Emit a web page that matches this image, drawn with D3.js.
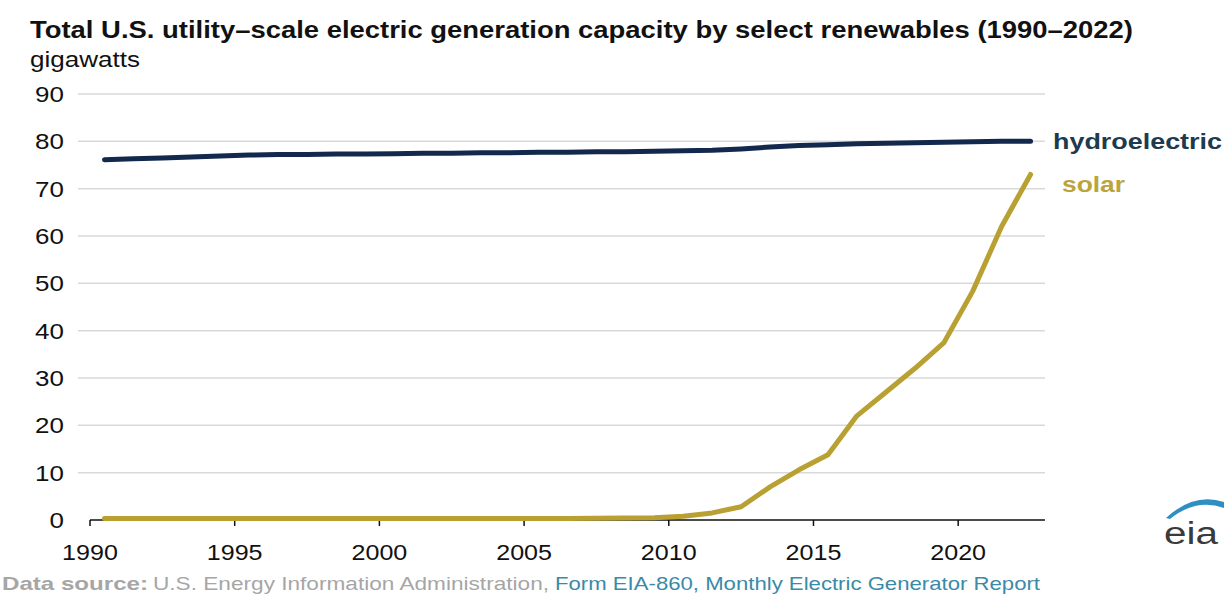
<!DOCTYPE html>
<html>
<head>
<meta charset="utf-8">
<script src="https://cdn.jsdelivr.net/npm/d3@7"></script>
<style>
  body { margin: 0; background: #fff; }
  text { font-family: "Liberation Sans", Arial, sans-serif; }
</style>
</head>
<body>
<div id="chart"></div>
<script>
// years 1990..2022
var years = d3.range(1990, 2023);
var hydro = [76.1, 76.3, 76.5, 76.7, 76.9, 77.1, 77.2, 77.2, 77.3, 77.3,
             77.4, 77.5, 77.5, 77.6, 77.6, 77.7, 77.7, 77.8, 77.8, 77.9,
             78.0, 78.1, 78.4, 78.8, 79.1, 79.3, 79.5, 79.6, 79.7, 79.8,
             79.9, 80.0, 80.0];
var solar = [0.3, 0.3, 0.3, 0.3, 0.3, 0.3, 0.3, 0.3, 0.3, 0.3,
             0.3, 0.3, 0.3, 0.3, 0.3, 0.3, 0.3, 0.35, 0.4, 0.5,
             0.8, 1.5, 2.8, 7.0, 10.6, 13.8, 22.0, 27.0, 32.0, 37.4,
             48.3, 62.0, 73.0];
var yTicks = [0, 10, 20, 30, 40, 50, 60, 70, 80, 90];
var xTickYears = [1990, 1995, 2000, 2005, 2010, 2015, 2020];

var W = 1224, H = 595;
var stretch = 1.18;   // source image text is a bit wide

var svg = d3.select("#chart").append("svg")
  .attr("width", W).attr("height", H);

var x = d3.scaleBand().domain(years).range([90, 1045]);
var y = d3.scaleLinear().domain([0, 90]).range([520, 94]);

function widen(sel, f) {
  sel.each(function() {
    var w = this.getComputedTextLength();
    d3.select(this).attr("textLength", w * (f || stretch))
      .attr("lengthAdjust", "spacingAndGlyphs");
  });
}

// title
svg.append("text").attr("x", 30).attr("y", 38)
  .attr("font-size", 23).attr("font-weight", "bold").attr("fill", "#111")
  .attr("textLength", 1103).attr("lengthAdjust", "spacingAndGlyphs")
  .text("Total U.S. utility\u2013scale electric generation capacity by select renewables (1990\u20132022)");
svg.append("text").attr("x", 30).attr("y", 67)
  .attr("font-size", 22).attr("fill", "#111")
  .attr("textLength", 110).attr("lengthAdjust", "spacingAndGlyphs")
  .text("gigawatts");

// gridlines
svg.append("g").selectAll("line")
  .data(yTicks.filter(function(d){ return d > 0; }))
  .enter().append("line")
  .attr("x1", 78).attr("x2", 1045)
  .attr("y1", function(d){ return y(d); })
  .attr("y2", function(d){ return y(d); })
  .attr("stroke", "#d9d9d9").attr("stroke-width", 1.5);

// y labels
svg.append("g").selectAll("text")
  .data(yTicks).enter().append("text")
  .attr("x", 64).attr("y", function(d){ return y(d) + 8; })
  .attr("text-anchor", "end").attr("font-size", 22).attr("fill", "#111")
  .text(function(d){ return d; })
  .call(widen);

// x axis
var xaxis = svg.append("g");
xaxis.append("line").attr("x1", 90).attr("x2", 1045)
  .attr("y1", 520).attr("y2", 520).attr("stroke", "#111").attr("stroke-width", 1.5);
xaxis.selectAll(".tick").data(xTickYears).enter().append("line")
  .attr("x1", function(d){ return x(d); }).attr("x2", function(d){ return x(d); })
  .attr("y1", 520).attr("y2", 526).attr("stroke", "#111").attr("stroke-width", 1.5);
xaxis.selectAll("text").data(xTickYears).enter().append("text")
  .attr("x", function(d){ return x(d); }).attr("y", 560)
  .attr("text-anchor", "middle").attr("font-size", 22).attr("fill", "#111")
  .text(function(d){ return d; })
  .call(widen, 1.14);

var line = d3.line()
  .x(function(d, i){ return x(years[i]) + x.bandwidth() / 2; })
  .y(function(d){ return y(d); });

svg.append("path").datum(solar).attr("d", line)
  .attr("fill", "none").attr("stroke", "#b9a032").attr("stroke-width", 5)
  .attr("stroke-linejoin", "round").attr("stroke-linecap", "round");
svg.append("path").datum(hydro).attr("d", line)
  .attr("fill", "none").attr("stroke", "#12284d").attr("stroke-width", 5)
  .attr("stroke-linejoin", "round").attr("stroke-linecap", "round");

// series labels
svg.append("text").attr("x", 1053).attr("y", 149)
  .attr("font-size", 22).attr("font-weight", "bold").attr("fill", "#1d3a4e")
  .attr("textLength", 169).attr("lengthAdjust", "spacingAndGlyphs")
  .text("hydroelectric");
svg.append("text").attr("x", 1062).attr("y", 192)
  .attr("font-size", 22).attr("font-weight", "bold").attr("fill", "#bba43c")
  .attr("textLength", 63).attr("lengthAdjust", "spacingAndGlyphs")
  .text("solar");

// footer
svg.append("text").attr("x", 2).attr("y", 590).attr("font-size", 19)
  .attr("font-weight", "bold").attr("fill", "#a6a6a6")
  .attr("textLength", 146).attr("lengthAdjust", "spacingAndGlyphs")
  .text("Data source:");
svg.append("text").attr("x", 153).attr("y", 590).attr("font-size", 19)
  .attr("fill", "#a6a6a6")
  .attr("textLength", 396).attr("lengthAdjust", "spacingAndGlyphs")
  .text("U.S. Energy Information Administration,");
svg.append("text").attr("x", 555).attr("y", 590).attr("font-size", 19)
  .attr("fill", "#3a8aa8")
  .attr("textLength", 485).attr("lengthAdjust", "spacingAndGlyphs")
  .text("Form EIA-860, Monthly Electric Generator Report");

// eia logo
var logo = svg.append("g");
logo.append("path")
  .attr("d", "M1166,518 Q1194,492 1224,502 L1224,508 Q1196,498 1170,519 Z")
  .attr("fill", "#2f8fc2");
logo.append("text").attr("x", 1164).attr("y", 544)
  .attr("font-size", 31).attr("fill", "#3a3a3a")
  .attr("textLength", 54).attr("lengthAdjust", "spacingAndGlyphs")
  .text("eia");
</script>
</body>
</html>
